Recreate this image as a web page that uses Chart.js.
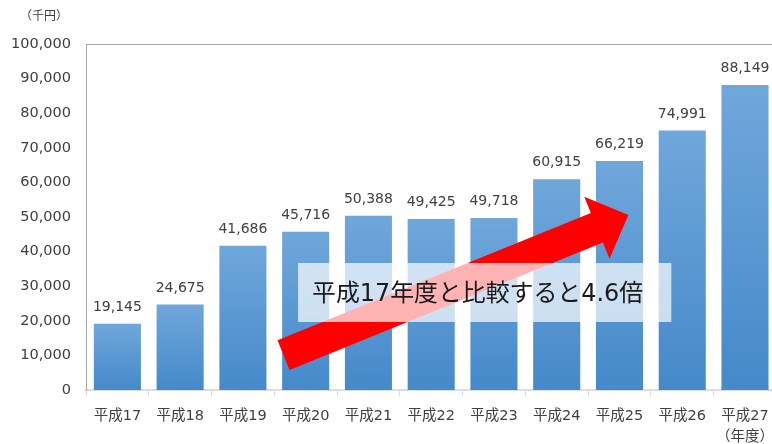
<!DOCTYPE html>
<html>
<head>
<meta charset="utf-8">
<script src="https://cdn.jsdelivr.net/npm/chart.js@4"></script>
<style>
  html, body { margin: 0; padding: 0; background: #fff; overflow: hidden; }
  #wrap { width: 784px; height: 444px; }
</style>
</head>
<body>
<div id="wrap"><canvas id="Chart1" width="784" height="444"></canvas></div>
<script>
// 年度別の金額（千円）
const years = ['平成17', '平成18', '平成19', '平成20', '平成21', '平成22', '平成23', '平成24', '平成25', '平成26', '平成27'];
const amounts = [19145, 24675, 41686, 45716, 50388, 49425, 49718, 60915, 66219, 74991, 88149];
const yTicks = [0, 10000, 20000, 30000, 40000, 50000, 60000, 70000, 80000, 90000, 100000];
const unitLabel = '（千円）';
const yearUnit = '（年度）';
const note = '平成17年度と比較すると4.6倍';

// arrow and box, in axis units (category index, value)
const arrowFrom = [2.647, 10100];
const arrowTo = [8.142, 50600];
const boxFrom = [2.879, 36700];
const boxTo = [8.826, 19650];

const FONT = '"DejaVu Sans", "Noto Sans CJK JP"';
const fmt = v => v.toLocaleString('en-US');

function barGradient(ctx) {
  const chart = ctx.chart;
  if (!chart.chartArea || ctx.raw === undefined) return '#5b9bd5';
  const y = chart.scales.y;
  const top = y.getPixelForValue(ctx.raw);
  const bot = y.getPixelForValue(0);
  const g = chart.ctx.createLinearGradient(0, top, 0, bot);
  g.addColorStop(0, '#70a7db');
  g.addColorStop(1, '#4589ca');
  return g;
}

const extras = {
  id: 'extras',
  afterDatasetsDraw(chart) {
    const c = chart.ctx;
    const x = chart.scales.x, y = chart.scales.y;
    const area = chart.chartArea;
    c.save();

    // top frame line
    c.strokeStyle = '#a6a6a6';
    c.lineWidth = 1;
    c.beginPath();
    c.moveTo(area.left, area.top + 0.5);
    c.lineTo(area.right, area.top + 0.5);
    c.stroke();

    // value labels
    c.fillStyle = '#404040';
    c.font = '14px ' + FONT;
    c.textAlign = 'center';
    c.textBaseline = 'alphabetic';
    chart.getDatasetMeta(0).data.forEach((bar, i) => {
      c.fillText(fmt(amounts[i]), bar.x, bar.y - 13);
    });

    // unit
    c.font = '12px "Noto Sans CJK JP"';
    c.textBaseline = 'middle';
    c.fillText(unitLabel, 44, 15);

    // red arrow
    const tx = x.getPixelForValue(arrowFrom[0]), ty = y.getPixelForValue(arrowFrom[1]);
    const px = x.getPixelForValue(arrowTo[0]), py = y.getPixelForValue(arrowTo[1]);
    const len = Math.hypot(px - tx, py - ty);
    const dx = (px - tx) / len, dy = (py - ty) / len;
    const nx = -dy, ny = dx;
    const w = 16, h = 33.5, L = 34;
    const bx = px - dx * L, by = py - dy * L;
    c.fillStyle = '#ff0000';
    c.beginPath();
    c.moveTo(tx + nx * w, ty + ny * w);
    c.lineTo(bx + nx * w, by + ny * w);
    c.lineTo(bx + nx * h, by + ny * h);
    c.lineTo(px, py);
    c.lineTo(bx - nx * h, by - ny * h);
    c.lineTo(bx - nx * w, by - ny * w);
    c.lineTo(tx - nx * w, ty - ny * w);
    c.closePath();
    c.fill();

    // translucent box
    const x0 = x.getPixelForValue(boxFrom[0]), y0 = y.getPixelForValue(boxFrom[1]);
    const x1 = x.getPixelForValue(boxTo[0]), y1 = y.getPixelForValue(boxTo[1]);
    c.fillStyle = 'rgba(255,255,255,0.7)';
    c.fillRect(x0, y0, x1 - x0, y1 - y0);

    // note text, stretched to the width it has in the original
    c.fillStyle = '#1a1a1a';
    c.font = '24px ' + FONT;
    c.textAlign = 'left';
    c.textBaseline = 'middle';
    const want = 331;
    const got = c.measureText(note).width;
    if (got < want && 'letterSpacing' in c) {
      c.letterSpacing = ((want - got) / note.length) + 'px';
      c.fillText(note, x0 + 14, (y0 + y1) / 2 + 2);
    } else {
      c.fillText(note, x0 + 14, (y0 + y1) / 2 + 2, want);
    }
    c.restore();
  }
};

new Chart(document.getElementById('Chart1').getContext('2d'), {
  type: 'bar',
  data: {
    labels: years,
    datasets: [{
      data: amounts,
      backgroundColor: barGradient,
      borderWidth: 0,
      barPercentage: 0.75,
      categoryPercentage: 1
    }]
  },
  options: {
    responsive: false,
    animation: false,
    layout: { padding: { top: 44, right: 0, left: 0, bottom: 0 } },
    plugins: {
      legend: { display: false },
      tooltip: { enabled: false }
    },
    scales: {
      x: {
        grid: { display: true, drawOnChartArea: false, drawTicks: true, tickLength: 6, color: '#d9dee6', offset: true },
        border: { display: true, color: '#d9dee6', width: 2 },
        ticks: {
          padding: 10,
          color: '#404040',
          font: { family: FONT, size: 14.5, lineHeight: 1.45 },
          maxRotation: 0,
          autoSkip: false,
          callback: function(value, index) {
            const lab = this.getLabelForValue(value);
            return index === years.length - 1 ? [lab, yearUnit] : lab;
          }
        },
        afterFit: s => { s.height = 54; }
      },
      y: {
        min: 0,
        max: 100000,
        afterBuildTicks: s => { s.ticks = yTicks.map(v => ({ value: v })); },
        grid: { display: false },
        border: { display: true, color: '#a6a6a6', width: 1 },
        ticks: {
          padding: 7,
          color: '#404040',
          font: { family: FONT, size: 14.5 },
          callback: v => fmt(v)
        },
        afterFit: s => { s.width = 86; }
      }
    }
  },
  plugins: [extras]
});
</script>
</body>
</html>
